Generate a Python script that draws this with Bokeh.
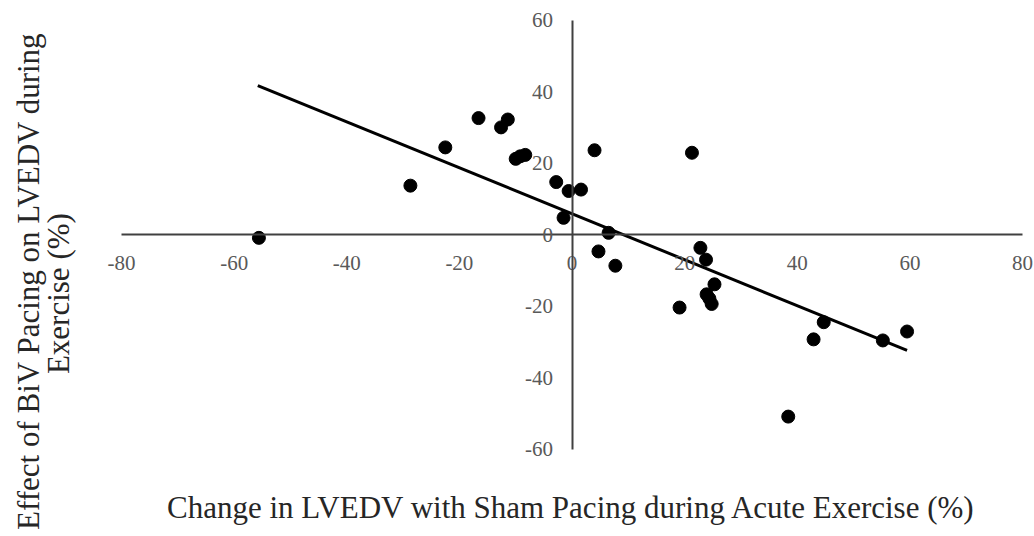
from bokeh.plotting import figure
from bokeh.models import LinearAxis, Range1d, FixedTicker, Label, CustomJSTickFormatter
from bokeh.embed import file_html
from bokeh.resources import INLINE
import math

# Data
sham_change = [-55.6, -28.7, -22.5, -16.6, -12.6, -11.4, -10.0, -9.2, -8.3, -2.8,
               -0.6, 1.6, -1.5, 4.0, 21.3, 6.5, 4.7, 7.7, 22.8, 23.8,
               25.3, 23.9, 24.4, 24.8, 19.1, 38.4, 42.9, 44.7, 55.2, 59.5]
biv_effect = [-0.8, 13.8, 24.5, 32.7, 30.1, 32.3, 21.3, 22.0, 22.4, 14.8,
              12.3, 12.7, 4.8, 23.7, 23.0, 0.6, -4.6, -8.6, -3.6, -6.9,
              -13.8, -16.6, -17.8, -19.3, -20.3, -50.8, -29.2, -24.4, -29.5, -27.0]
trend_x = [-55.8, 59.5]
trend_y = [41.8, -32.3]
x_ticks = [-80, -60, -40, -20, 0, 20, 40, 60, 80]
y_ticks = [-60, -40, -20, 0, 20, 40, 60]
x_title = "Change in LVEDV with Sham Pacing during Acute Exercise (%)"
y_title_1 = "Effect of BiV Pacing on LVEDV during"
y_title_2 = "Exercise (%)"

# frame covers the whole canvas; ranges chosen so the axes land where the reference has them
p = figure(width=1034, height=536, output_backend="svg", toolbar_location=None,
           x_range=Range1d(-101.49, 82.13), y_range=Range1d(-84.34, 65.59),
           x_axis_location=None, y_axis_location=None,
           min_border=0)
p.outline_line_color = None
p.grid.visible = False
p.background_fill_color = "white"
p.border_fill_color = "white"

label_font = "Liberation Serif"
label_color = "#595959"
axis_color = "#404040"

fmt = CustomJSTickFormatter(code="return tick.toFixed(0);")
xa = LinearAxis(fixed_location=0, ticker=FixedTicker(ticks=x_ticks), bounds=(-80, 80), formatter=fmt)
ya = LinearAxis(fixed_location=0, ticker=FixedTicker(ticks=y_ticks), bounds=(-60, 60), formatter=fmt)
for ax in (xa, ya):
    ax.major_tick_line_color = None
    ax.minor_tick_line_color = None
    ax.major_tick_out = 0
    ax.major_tick_in = 0
    ax.axis_line_color = axis_color
    ax.axis_line_width = 2
    ax.major_label_text_font = label_font
    ax.major_label_text_font_size = "21px"
    ax.major_label_text_color = label_color
xa.major_label_standoff = 21
ya.major_label_standoff = 19
p.add_layout(xa, "below")
p.add_layout(ya, "left")

p.line(trend_x, trend_y, line_color="black", line_width=3)
p.scatter(sham_change, biv_effect, size=13, fill_color="black", line_color="black")

title_font = "Liberation Serif"
title_color = "#262626"
p.add_layout(Label(x=-0.1, y=-76.2, text=x_title, text_align="center", text_baseline="middle",
                   text_font=title_font, text_font_size="31px", text_color=title_color))
p.add_layout(Label(x=-96.5, y=-12.9, text=y_title_1, angle=math.pi / 2, text_align="center",
                   text_baseline="middle", text_font=title_font, text_font_size="31px",
                   text_color=title_color))
p.add_layout(Label(x=-91.2, y=-16.4, text=y_title_2, angle=math.pi / 2, text_align="center",
                   text_baseline="middle", text_font=title_font, text_font_size="31px",
                   text_color=title_color))

open("out.html", "w").write(file_html(p, INLINE))
